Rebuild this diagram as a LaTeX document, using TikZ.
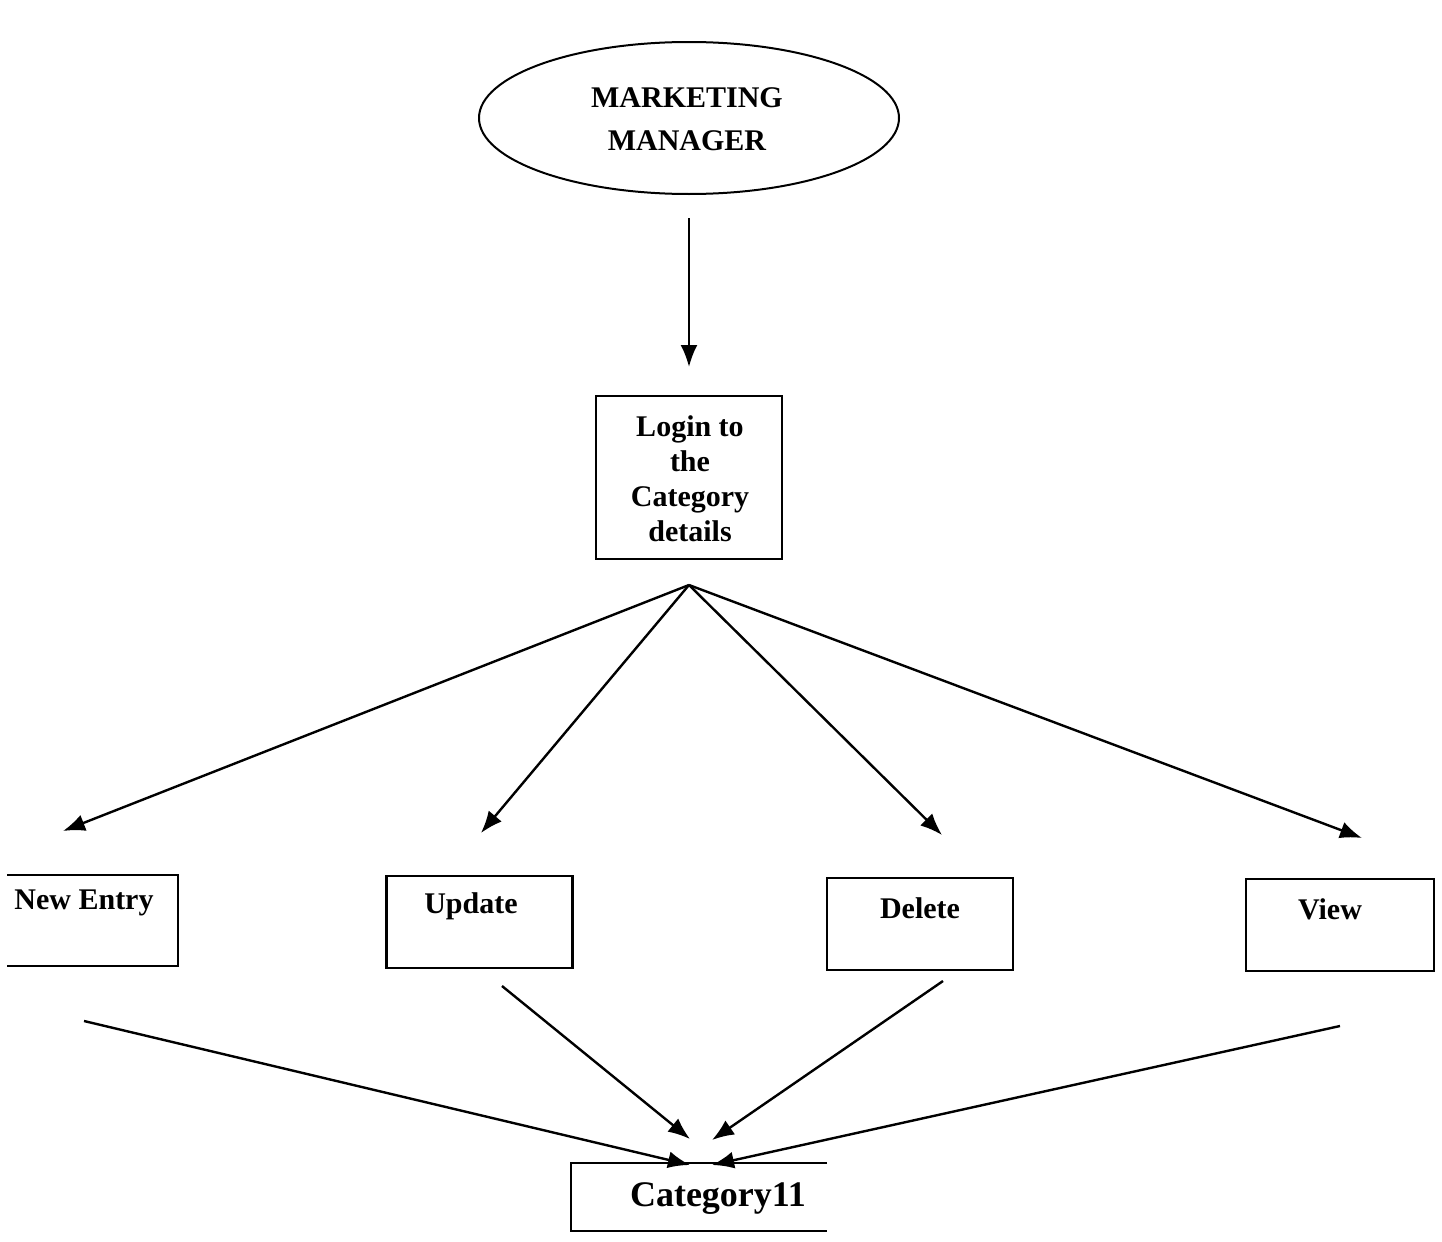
\documentclass[tikz,border=0pt]{standalone}
\usepackage{fontspec}
\setmainfont{Liberation Serif}
\usetikzlibrary{shapes.geometric,arrows.meta}
\begin{document}
\begin{tikzpicture}[x=0.5pt,y=-0.5pt,
  every node/.style={font=\fontsize{15pt}{17.5pt}\selectfont\bfseries},
  box/.style={draw,line width=1.1pt,minimum width=93pt,minimum height=46pt,inner sep=0pt},
  arr/.style={line width=1.2pt,-{Latex[length=11pt,width=8.5pt]}},
  ln/.style={line width=1.1pt}]
\useasboundingbox (0,0) rectangle (1442,1242);
\node[ellipse,draw,line width=1pt,minimum width=210pt,minimum height=76pt] (mm) at (689,118) {};
\node[align=center] (mmt) at (687,119) {MARKETING\\[4pt]MANAGER};
\node[box,minimum width=93pt,minimum height=81.5pt] (login) at (689,477.5) {};
\node[align=center] (logint) at (690,479) {Login to\\the\\Category\\details};
\coordinate (mmb) at (689,218);
\coordinate (lt) at (689,367);
\draw[arr] (mmb) -- (lt);
\coordinate (fan) at (689,585);
\coordinate (t1) at (63,831);
\coordinate (t2) at (481,833);
\coordinate (t3) at (942,835);
\coordinate (t4) at (1362,838);
\draw[arr] (fan) -- (t1);
\draw[arr] (fan) -- (t2);
\draw[arr] (fan) -- (t3);
\draw[arr] (fan) -- (t4);
% New Entry (open left side)
\coordinate (ne1) at (7,875);
\coordinate (ne2) at (178,875);
\coordinate (ne3) at (178,966);
\coordinate (ne4) at (7,966);
\draw[ln] (ne1) -- (ne2) -- (ne3) -- (ne4);
\node (net) at (84,903) {New Entry};
\node[box] (upd) at (479.5,922) {};
\node (updt) at (471,906) {Update};
\node[box] (del) at (920,924) {};
\node (delt) at (920,908) {Delete};
\node[box,minimum width=94pt] (view) at (1340,925) {};
\node (viewt) at (1330,909) {View};
% Category11 (open right side)
\coordinate (c1) at (827,1163);
\coordinate (c2) at (571,1163);
\coordinate (c3) at (571,1231);
\coordinate (c4) at (827,1231);
\draw[ln] (c1) -- (c2) -- (c3) -- (c4);
\node[font=\fontsize{18pt}{20pt}\selectfont\bfseries] (cat) at (718,1199) {Category11};
\coordinate (s1) at (84,1021);
\coordinate (s2) at (502,986);
\coordinate (s3) at (943,981);
\coordinate (s4) at (1340,1026);
\coordinate (e1) at (690,1165);
\coordinate (e2) at (690,1139);
\coordinate (e3) at (712,1140);
\coordinate (e4) at (712,1165);
\draw[arr] (s1) -- (e1);
\draw[arr] (s2) -- (e2);
\draw[arr] (s3) -- (e3);
\draw[arr] (s4) -- (e4);
\end{tikzpicture}
\end{document}
